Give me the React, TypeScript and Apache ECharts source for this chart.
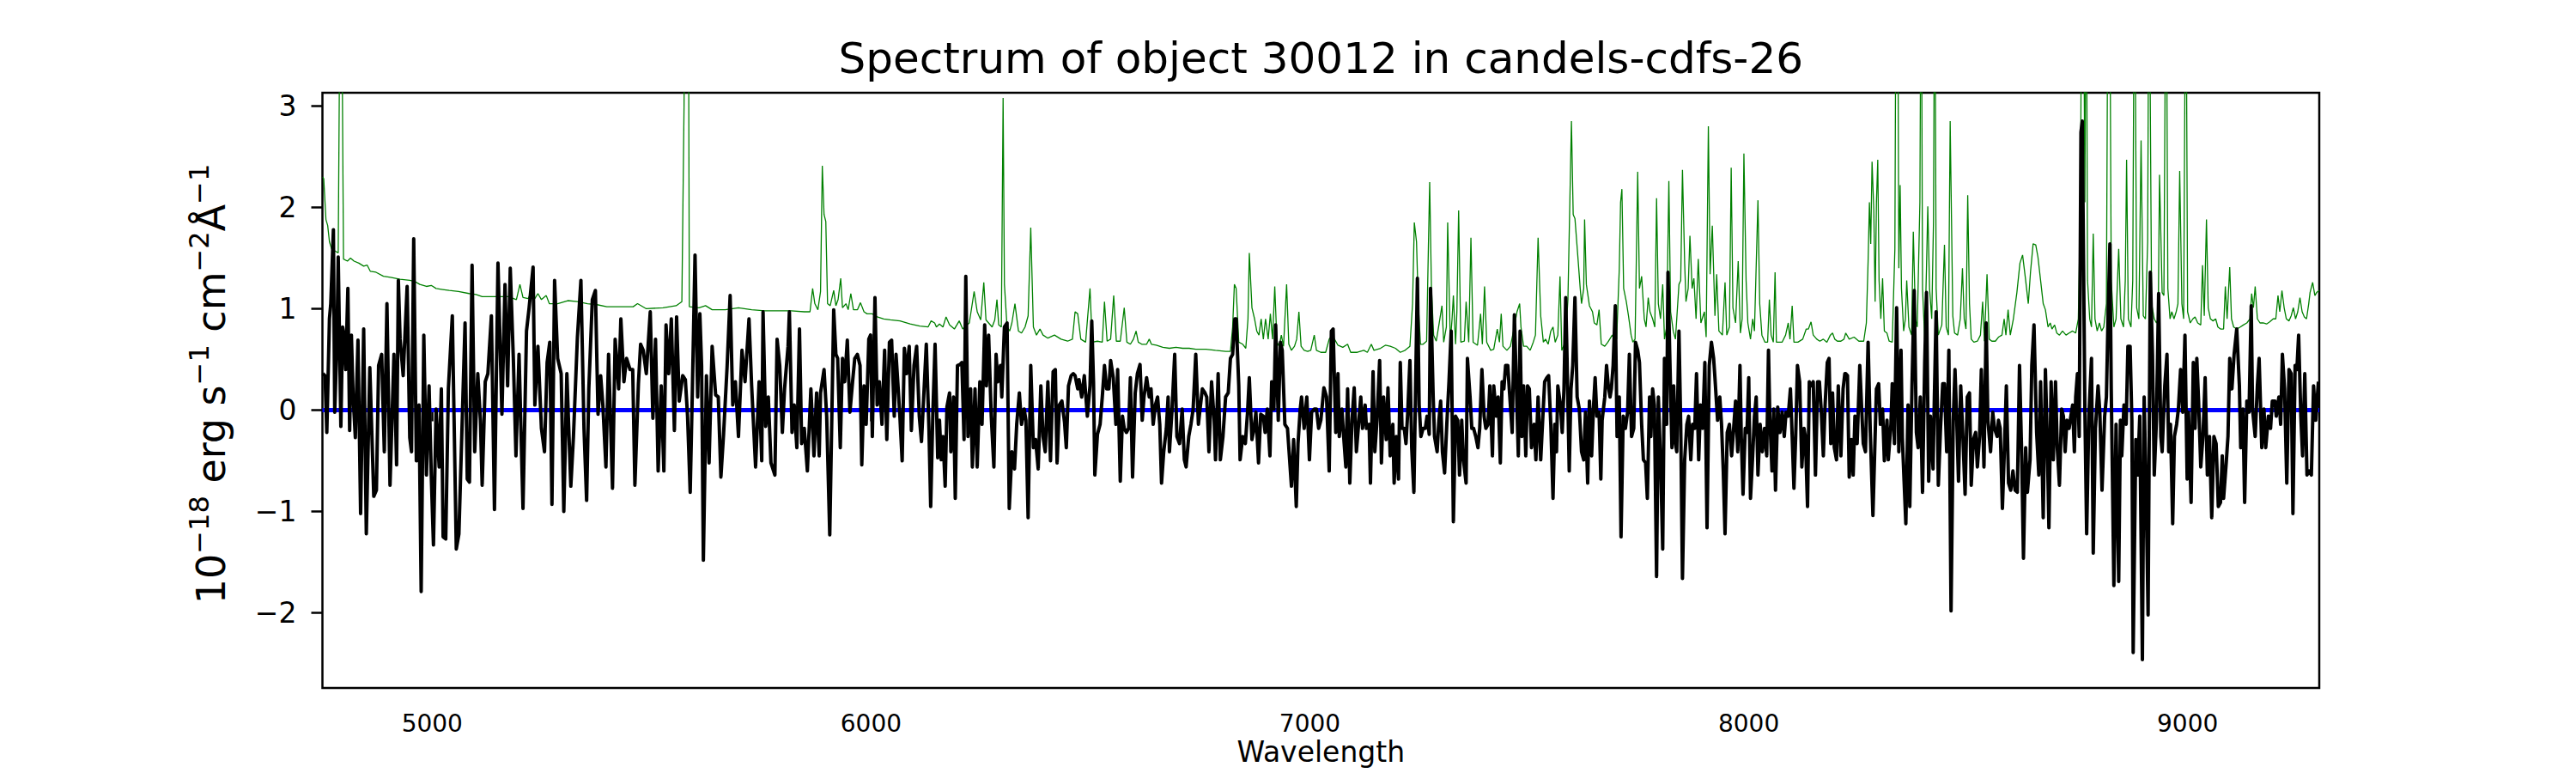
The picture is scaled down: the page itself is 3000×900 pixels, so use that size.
import React, { useEffect, useRef } from "react";
import * as echarts from "echarts";

const TITLE = "Spectrum of object 30012 in candels-cdfs-26";
const X_LABEL = "Wavelength";
const X_RANGE = [4750, 9300];
const Y_RANGE = [-2.74, 3.13];
const X_TICKS = [5000, 6000, 7000, 8000, 9000];
const Y_TICKS = [-2, -1, 0, 1, 2, 3];
const ZERO_LEVEL = 0;

// Object flux (black), [wavelength, flux]
const FLUX_4750_5906 = [[4751,0.36],[4756,0.34],[4760,-0.22],[4766,0.90],[4769,1.05],[4775,1.78],[4778,-0.02],[4783,0.67],[4786,1.51],[4792,-0.16],[4796,0.82],[4799,0.74],[4803,0.40],[4808,1.20],[4812,-0.20],[4816,0.74],[4820,0.13],[4825,-0.27],[4831,0.69],[4837,-1.02],[4844,0.80],[4850,-1.22],[4858,0.42],[4867,-0.85],[4873,-0.79],[4878,0.44],[4885,0.55],[4891,-0.41],[4897,1.05],[4904,-0.74],[4913,0.55],[4919,-0.54],[4923,1.28],[4927,0.70],[4934,0.34],[4943,1.22],[4949,-0.27],[4953,-0.41],[4958,1.69],[4964,-0.50],[4970,0.05],[4975,-1.79],[4981,0.74],[4987,-0.64],[4993,0.24],[4998,-0.64],[5003,-1.33],[5009,0.01],[5016,-0.56],[5021,0.21],[5025,-1.25],[5031,-1.27],[5037,0.21],[5046,0.93],[5055,-1.37],[5061,-1.22],[5067,-0.33],[5075,0.86],[5080,-0.68],[5085,-0.71],[5091,1.43],[5097,-0.41],[5104,0.36],[5110,-0.10],[5114,-0.74],[5121,0.28],[5127,0.36],[5135,0.93],[5142,-0.98],[5150,1.45],[5159,-0.04],[5166,1.24],[5172,0.24],[5178,1.40],[5185,0.51],[5191,-0.45],[5198,0.55],[5207,-0.97],[5215,0.78],[5221,1.01],[5230,1.41],[5234,0.05],[5241,0.63],[5249,-0.18],[5256,-0.41],[5262,0.47],[5268,0.67],[5273,-0.93],[5279,1.28],[5286,0.51],[5294,0.36],[5300,-1.00],[5307,0.36],[5312,-0.27],[5316,-0.75],[5322,-0.26],[5331,0.72],[5339,1.28],[5346,-0.18],[5352,-0.89],[5357,0.21],[5365,1.09],[5372,1.18],[5378,-0.04],[5384,0.34],[5389,0.05],[5396,-0.56],[5402,0.55],[5411,-0.77],[5417,0.70],[5425,0.21],[5430,0.90],[5437,0.28],[5443,0.51],[5451,0.40],[5457,0.40],[5462,-0.74],[5470,0.26],[5475,0.65],[5481,0.59],[5488,0.36],[5497,0.97],[5503,-0.08],[5509,0.70],[5515,-0.60],[5522,0.24],[5528,-0.60],[5533,0.84],[5539,0.36],[5545,0.90],[5552,-0.20],[5557,0.92],[5563,0.09],[5571,0.34],[5577,0.30],[5582,-0.06],[5588,-0.81],[5593,0.21],[5599,1.53],[5605,0.13],[5610,0.95],[5614,0.44],[5618,-1.48],[5625,0.34],[5631,-0.52],[5638,0.63],[5646,0.15],[5652,0.13],[5658,-0.66],[5664,-0.24],[5672,0.42],[5679,1.13],[5685,0.05],[5691,0.28],[5698,-0.26],[5706,0.59],[5713,0.28],[5722,0.90],[5728,0.24],[5737,-0.56],[5745,0.28],[5751,-0.50],[5754,0.97],[5760,-0.16],[5766,0.13],[5772,-0.52],[5781,-0.64],[5786,0.70],[5792,0.44],[5798,-0.22],[5803,0.21],[5811,0.63],[5814,0.97],[5820,-0.22],[5825,0.05],[5831,-0.37],[5837,0.80],[5842,-0.33],[5848,-0.18],[5855,-0.60],[5863,0.21],[5870,-0.45],[5876,0.17],[5882,-0.45],[5885,0.17],[5893,0.40],[5899,-0.06],[5906,-1.23]];

const FLUX_5915_7064 = [[5915,0.99],[5920,0.55],[5924,0.51],[5930,-0.37],[5935,0.51],[5940,0.28],[5946,0.69],[5952,-0.02],[5958,0.28],[5963,0.51],[5969,0.55],[5975,0.44],[5979,-0.54],[5984,0.24],[5989,-0.14],[5995,0.70],[5999,0.74],[6003,-0.26],[6009,1.11],[6014,0.05],[6019,0.28],[6025,-0.14],[6031,0.59],[6036,-0.29],[6042,0.67],[6047,0.69],[6053,-0.06],[6057,0.55],[6062,0.21],[6066,-0.08],[6071,-0.50],[6076,0.61],[6081,0.36],[6087,0.63],[6092,-0.20],[6098,0.44],[6104,0.63],[6110,-0.06],[6115,-0.31],[6121,0.21],[6126,0.65],[6132,-0.18],[6136,-0.95],[6141,-0.02],[6146,0.65],[6152,-0.47],[6156,-0.10],[6160,-0.49],[6164,-0.26],[6169,-0.75],[6173,0.03],[6179,0.17],[6182,-0.41],[6188,0.13],[6192,-0.87],[6197,0.44],[6203,0.45],[6207,0.47],[6212,-0.29],[6216,1.32],[6221,-0.26],[6227,0.21],[6231,-0.56],[6237,0.21],[6242,-0.56],[6248,0.28],[6253,-0.14],[6259,0.84],[6263,0.24],[6268,0.74],[6274,-0.06],[6280,-0.56],[6285,0.55],[6289,0.28],[6295,0.44],[6298,0.13],[6304,0.82],[6310,0.86],[6315,-0.97],[6321,-0.41],[6327,-0.58],[6332,-0.14],[6338,0.17],[6343,-0.14],[6349,0.01],[6353,-0.10],[6358,-1.06],[6364,0.44],[6370,-0.37],[6375,-0.29],[6381,-0.58],[6387,0.24],[6392,-0.26],[6397,-0.41],[6403,0.28],[6409,-0.50],[6415,0.38],[6420,0.40],[6424,-0.52],[6429,0.05],[6435,0.09],[6441,-0.12],[6445,-0.37],[6450,0.24],[6456,0.34],[6461,0.36],[6465,0.34],[6471,0.21],[6474,0.30],[6480,0.13],[6486,0.34],[6493,-0.06],[6499,0.24],[6503,0.88],[6507,0.28],[6510,-0.64],[6516,-0.24],[6522,-0.14],[6527,0.13],[6532,0.44],[6537,0.21],[6542,0.21],[6546,0.49],[6552,0.32],[6558,-0.14],[6562,0.40],[6568,-0.70],[6573,-0.06],[6577,-0.18],[6582,-0.22],[6587,-0.18],[6591,0.32],[6596,-0.66],[6602,0.17],[6607,0.36],[6613,0.45],[6618,-0.10],[6622,0.13],[6628,0.32],[6634,0.13],[6638,0.21],[6643,-0.14],[6648,0.05],[6653,0.13],[6658,-0.14],[6662,-0.72],[6667,-0.41],[6673,-0.18],[6677,0.13],[6680,-0.41],[6686,0.01],[6692,0.55],[6697,-0.26],[6703,-0.33],[6709,0.01],[6714,-0.49],[6718,-0.56],[6724,-0.26],[6729,-0.14],[6734,0.01],[6740,0.55],[6746,-0.14],[6749,-0.02],[6755,0.21],[6761,0.17],[6765,0.13],[6770,-0.41],[6776,0.28],[6782,-0.10],[6785,-0.49],[6791,0.36],[6796,-0.49],[6802,-0.26],[6808,0.13],[6814,0.17],[6819,0.51],[6824,0.55],[6829,0.90],[6832,0.90],[6838,0.24],[6841,-0.49],[6847,-0.26],[6853,-0.33],[6858,-0.02],[6862,0.32],[6868,-0.29],[6873,-0.18],[6877,-0.02],[6883,-0.52],[6888,-0.04],[6894,-0.06],[6898,-0.22],[6903,0.01],[6909,-0.45],[6913,0.28],[6918,0.01],[6922,0.84],[6928,-0.10],[6933,0.67],[6937,0.59],[6943,-0.14],[6949,-0.18],[6952,-0.37],[6958,-0.75],[6963,-0.29],[6969,-0.95],[6973,-0.33],[6978,0.01],[6981,0.13],[6987,-0.18],[6993,0.13],[6999,-0.49],[7004,-0.02],[7010,0.01],[7015,0.01],[7020,-0.18],[7025,-0.10],[7032,0.22],[7038,0.13],[7044,-0.60],[7049,0.78],[7053,0.80],[7059,-0.22],[7064,0.36]];

const FLUX_7067_8219 = [[7067,-0.26],[7073,0.01],[7077,-0.26],[7082,-0.56],[7086,0.21],[7091,-0.72],[7096,-0.10],[7101,0.22],[7106,-0.41],[7111,-0.14],[7116,0.13],[7120,-0.18],[7126,0.05],[7129,-0.18],[7135,-0.14],[7138,-0.72],[7144,0.38],[7148,-0.41],[7153,-0.10],[7159,0.49],[7163,-0.52],[7168,0.13],[7174,-0.29],[7178,0.22],[7183,-0.45],[7189,-0.14],[7192,-0.72],[7197,-0.26],[7202,-0.68],[7206,0.47],[7210,-0.18],[7215,-0.18],[7219,-0.33],[7223,-0.02],[7228,0.49],[7232,-0.37],[7237,-0.81],[7242,0.51],[7245,1.30],[7249,0.05],[7253,-0.26],[7258,-0.18],[7263,-0.18],[7267,-0.06],[7272,-0.24],[7275,1.20],[7281,0.13],[7284,-0.26],[7290,-0.41],[7294,-0.10],[7298,0.09],[7302,-0.41],[7307,-0.62],[7312,-0.14],[7317,0.28],[7322,0.78],[7327,-1.10],[7332,-0.06],[7337,-0.10],[7341,-0.64],[7346,-0.10],[7350,-0.49],[7356,-0.72],[7359,0.51],[7365,0.13],[7369,-0.18],[7373,-0.18],[7378,-0.26],[7383,-0.37],[7387,-0.18],[7392,0.40],[7397,-0.06],[7401,-0.18],[7406,-0.14],[7410,0.24],[7416,-0.45],[7419,0.24],[7425,-0.06],[7429,0.13],[7434,-0.52],[7438,0.28],[7442,0.21],[7446,0.44],[7451,0.44],[7455,0.17],[7461,-0.22],[7466,0.94],[7470,0.32],[7475,-0.45],[7479,0.78],[7483,-0.26],[7487,0.24],[7492,-0.45],[7496,0.24],[7500,0.21],[7505,-0.37],[7511,-0.14],[7515,-0.49],[7520,0.13],[7526,-0.49],[7530,-0.14],[7535,0.28],[7540,0.32],[7544,0.34],[7549,-0.14],[7554,-0.87],[7558,-0.14],[7562,-0.41],[7565,0.24],[7571,0.05],[7575,-0.22],[7579,0.21],[7583,1.11],[7586,0.51],[7591,-0.60],[7595,0.21],[7599,0.44],[7604,1.11],[7609,0.13],[7614,0.01],[7619,-0.41],[7624,-0.49],[7628,-0.02],[7633,-0.72],[7637,0.09],[7642,-0.45],[7646,0.01],[7650,0.32],[7654,-0.06],[7659,-0.02],[7663,-0.68],[7666,-0.10],[7672,0.13],[7676,0.44],[7680,0.24],[7684,0.13],[7687,0.21],[7691,0.44],[7696,1.03],[7700,-0.26],[7705,0.13],[7709,-1.25],[7714,-0.06],[7719,-0.18],[7724,-0.02],[7728,0.55],[7733,-0.26],[7738,-0.18],[7742,0.67],[7747,0.59],[7751,0.47],[7756,-0.14],[7760,-0.49],[7765,-0.52],[7769,-0.87],[7774,0.13],[7777,-0.26],[7781,0.21],[7785,0.05],[7790,-1.64],[7794,0.13],[7799,-0.49],[7804,-1.37],[7808,0.51],[7813,-0.14],[7816,1.36],[7820,0.55],[7825,-0.37],[7829,0.24],[7833,-0.33],[7836,-0.41],[7841,0.78],[7845,-0.14],[7849,-1.66],[7854,-0.49],[7859,-0.14],[7863,-0.06],[7868,-0.49],[7872,-0.14],[7877,-0.18],[7881,0.36],[7886,-0.49],[7890,0.05],[7895,-0.18],[7900,0.47],[7905,-1.16],[7910,0.44],[7915,0.67],[7920,0.51],[7923,0.32],[7929,-0.10],[7934,0.13],[7938,-0.14],[7942,-0.60],[7946,-1.22],[7951,-0.22],[7956,-0.14],[7961,-0.45],[7965,-0.22],[7970,0.09],[7975,-0.41],[7980,0.44],[7983,-0.26],[7987,-0.83],[7992,-0.18],[7996,-0.22],[8000,0.32],[8004,-0.87],[8009,-0.45],[8013,-0.06],[8017,0.13],[8021,-0.64],[8026,-0.14],[8031,-0.41],[8036,-0.18],[8041,-0.45],[8045,0.59],[8048,-0.06],[8053,-0.60],[8057,0.01],[8061,-0.79],[8066,0.03],[8071,-0.22],[8076,-0.02],[8081,-0.26],[8085,-0.02],[8090,-0.06],[8095,0.21],[8099,-0.26],[8103,-0.77],[8107,-0.26],[8111,0.44],[8116,0.28],[8121,-0.56],[8126,-0.18],[8129,-0.26],[8134,-0.95],[8138,0.28],[8142,0.24],[8147,0.28],[8152,-0.64],[8157,0.28],[8161,0.28],[8165,0.01],[8170,-0.45],[8174,0.05],[8179,0.47],[8183,0.51],[8187,-0.33],[8191,0.17],[8195,-0.37],[8200,-0.49],[8204,0.24],[8210,-0.45],[8215,0.21],[8219,0.36]];

const FLUX_8221_9298 = [[8221,0.36],[8225,0.34],[8229,-0.66],[8234,-0.29],[8238,-0.64],[8242,-0.06],[8247,-0.33],[8253,0.44],[8257,0.05],[8261,-0.33],[8266,-0.41],[8272,0.67],[8277,-0.22],[8283,-1.04],[8287,-0.41],[8291,0.21],[8296,0.26],[8300,-0.14],[8305,0.01],[8309,-0.50],[8315,-0.10],[8318,-0.49],[8324,-0.14],[8327,0.26],[8332,-0.33],[8337,1.01],[8342,-0.41],[8347,0.59],[8350,-0.27],[8354,-0.70],[8358,-1.12],[8363,0.05],[8367,-0.95],[8372,0.24],[8377,1.18],[8382,-0.22],[8386,-0.37],[8391,0.13],[8396,-0.81],[8401,0.47],[8405,1.16],[8410,-0.70],[8414,-0.06],[8420,-0.58],[8423,0.13],[8427,0.97],[8432,-0.74],[8437,-0.18],[8442,0.26],[8446,0.26],[8451,-0.41],[8456,0.59],[8461,-1.98],[8466,-0.10],[8470,0.40],[8474,-0.10],[8478,-0.70],[8483,0.24],[8488,-0.26],[8493,-0.83],[8498,0.13],[8503,0.17],[8507,-0.74],[8512,-0.29],[8517,-0.22],[8521,-0.56],[8526,-0.26],[8530,0.40],[8536,-0.56],[8541,0.86],[8545,-0.10],[8551,-0.41],[8556,-0.02],[8560,-0.18],[8566,-0.26],[8569,-0.10],[8573,-0.18],[8578,-0.97],[8583,-0.33],[8587,0.24],[8592,-0.72],[8597,-0.79],[8602,-0.60],[8607,-0.79],[8612,-0.81],[8617,0.44],[8622,-0.45],[8626,-1.46],[8631,-0.37],[8635,-0.81],[8641,-0.49],[8645,0.44],[8650,0.84],[8656,-0.22],[8661,-0.64],[8665,0.28],[8671,-1.06],[8676,0.40],[8680,-0.26],[8684,-1.16],[8689,0.28],[8694,-0.49],[8699,0.28],[8703,-0.37],[8708,-0.74],[8713,0.01],[8717,-0.06],[8721,-0.41],[8725,-0.10],[8730,-0.18],[8734,-0.06],[8738,0.05],[8742,-0.41],[8745,0.13],[8749,0.36],[8753,-0.26],[8757,2.74],[8760,2.85],[8766,-0.02],[8770,-1.22],[8775,-0.06],[8781,0.51],[8785,-1.41],[8790,-0.18],[8796,0.24],[8800,-0.02],[8805,-0.79],[8811,-0.06],[8815,0.13],[8819,0.97],[8823,1.64],[8826,0.21],[8832,-1.73],[8837,-0.14],[8843,-1.69],[8847,-0.10],[8850,-0.45],[8855,0.05],[8860,-0.14],[8864,0.63],[8869,0.63],[8873,-0.10],[8876,-2.39],[8882,-0.29],[8886,-0.64],[8891,-0.06],[8897,-2.46],[8901,0.13],[8905,-0.68],[8910,-2.02],[8915,1.36],[8920,0.55],[8924,-0.64],[8929,-0.10],[8934,1.15],[8939,-0.26],[8942,-0.41],[8948,0.24],[8953,0.55],[8957,-0.41],[8961,-0.14],[8966,-1.12],[8970,-0.26],[8975,-0.14],[8979,0.01],[8984,0.40],[8989,-0.02],[8994,0.74],[8999,-0.68],[9002,-0.02],[9008,-0.91],[9013,0.47],[9017,-0.18],[9021,0.51],[9025,0.09],[9030,-0.56],[9035,-0.26],[9040,0.32],[9045,-0.64],[9050,-0.26],[9055,-1.06],[9060,-0.26],[9065,-0.33],[9070,-0.95],[9075,-0.91],[9079,-0.45],[9082,-0.87],[9088,-0.52],[9092,-0.26],[9096,0.51],[9101,0.21],[9106,0.55],[9112,0.80],[9118,0.24],[9121,-0.37],[9126,0.01],[9130,-0.91],[9135,0.09],[9140,-0.02],[9145,1.03],[9148,0.01],[9154,-0.26],[9159,0.24],[9163,0.51],[9169,-0.37],[9174,0.01],[9178,-0.37],[9184,-0.06],[9189,-0.18],[9193,0.09],[9199,0.09],[9202,-0.06],[9208,0.13],[9212,-0.14],[9216,0.55],[9221,0.21],[9226,-0.72],[9231,0.40],[9236,0.36],[9240,-1.02],[9245,0.44],[9249,0.40],[9253,0.74],[9258,-0.06],[9262,-0.45],[9267,0.36],[9272,-0.64],[9277,-0.60],[9282,-0.64],[9287,0.24],[9292,-0.10],[9298,0.28]];

// Noise / sky spectrum (green), [wavelength, value]
const SKY_4750_5900 = [[4751,2.30],[4753,2.28],[4758,1.88],[4762,1.82],[4766,1.66],[4771,1.59],[4786,1.55],[4789,3.5],[4792,6.0],[4795,3.5],[4798,1.49],[4807,1.47],[4814,1.50],[4822,1.47],[4833,1.45],[4844,1.42],[4852,1.43],[4859,1.37],[4872,1.36],[4889,1.32],[4905,1.31],[4927,1.29],[4949,1.28],[4960,1.27],[4972,1.24],[4987,1.22],[4998,1.23],[5009,1.20],[5024,1.19],[5039,1.18],[5060,1.17],[5084,1.15],[5100,1.14],[5114,1.12],[5144,1.12],[5174,1.12],[5192,1.09],[5200,1.24],[5207,1.11],[5219,1.10],[5226,1.17],[5234,1.10],[5241,1.15],[5249,1.09],[5260,1.13],[5267,1.05],[5286,1.05],[5309,1.08],[5331,1.07],[5354,1.05],[5376,1.04],[5398,1.02],[5428,1.02],[5458,1.02],[5468,1.05],[5488,1.00],[5526,1.01],[5556,1.03],[5569,1.07],[5574,3.0],[5578,6.0],[5583,6.0],[5586,1.02],[5608,1.01],[5623,1.03],[5638,0.99],[5668,0.99],[5698,1.01],[5728,0.99],[5758,0.98],[5788,0.98],[5818,0.98],[5848,0.97],[5861,0.97],[5867,1.20],[5872,1.05],[5879,0.99],[5885,1.17],[5889,2.41],[5893,1.93],[5897,1.86]];

const SKY_5900_7055 = [[5901,1.05],[5907,1.03],[5915,1.18],[5920,1.03],[5925,1.09],[5931,1.30],[5935,1.01],[5943,1.05],[5948,0.99],[5954,1.15],[5960,0.99],[5969,0.99],[5976,1.06],[5984,0.97],[5991,0.95],[6003,0.95],[6014,0.92],[6029,0.90],[6044,0.89],[6066,0.88],[6089,0.85],[6111,0.83],[6130,0.82],[6137,0.88],[6145,0.86],[6149,0.82],[6156,0.85],[6164,0.82],[6171,0.92],[6179,0.84],[6190,0.80],[6201,0.88],[6209,0.80],[6224,0.86],[6235,1.17],[6242,0.97],[6250,0.89],[6257,1.26],[6262,0.89],[6268,0.86],[6276,0.82],[6282,0.89],[6287,1.09],[6291,0.84],[6297,0.82],[6301,3.08],[6304,1.24],[6310,0.82],[6316,0.78],[6321,0.86],[6328,1.05],[6336,0.78],[6343,0.76],[6351,0.82],[6358,0.93],[6364,1.80],[6370,0.82],[6377,0.74],[6385,0.80],[6392,0.74],[6403,0.71],[6418,0.74],[6433,0.70],[6448,0.68],[6459,0.70],[6465,0.97],[6471,0.95],[6478,0.70],[6489,0.67],[6499,1.20],[6504,0.67],[6516,0.68],[6527,0.67],[6532,1.07],[6538,0.68],[6546,0.70],[6553,1.13],[6559,0.68],[6568,0.68],[6577,1.01],[6583,0.67],[6591,0.65],[6598,0.70],[6604,0.78],[6609,0.67],[6617,0.65],[6628,0.65],[6634,0.70],[6639,0.65],[6650,0.64],[6665,0.62],[6680,0.61],[6695,0.62],[6710,0.61],[6725,0.61],[6740,0.60],[6763,0.60],[6785,0.59],[6808,0.58],[6819,0.58],[6824,0.82],[6828,1.24],[6832,1.20],[6838,0.67],[6847,0.65],[6854,0.61],[6859,0.90],[6862,1.55],[6868,1.01],[6874,0.90],[6879,0.78],[6884,0.74],[6889,0.90],[6894,0.70],[6899,0.90],[6905,0.70],[6910,0.95],[6915,0.70],[6920,1.22],[6925,0.67],[6930,0.63],[6935,0.74],[6940,0.63],[6947,1.24],[6952,0.65],[6958,0.59],[6965,0.63],[6970,0.70],[6975,0.97],[6980,0.63],[6987,0.59],[6995,0.58],[7002,0.59],[7010,0.74],[7015,0.59],[7025,0.57],[7036,0.57],[7044,0.70],[7051,0.74]];

const SKY_7060_8220 = [[7064,0.64],[7075,0.62],[7086,0.65],[7093,0.57],[7108,0.57],[7123,0.59],[7131,0.57],[7140,0.65],[7146,0.59],[7161,0.61],[7172,0.64],[7183,0.63],[7195,0.61],[7206,0.57],[7217,0.59],[7228,0.63],[7234,1.05],[7238,1.85],[7243,1.66],[7247,1.05],[7252,0.65],[7258,0.65],[7266,0.68],[7270,1.59],[7273,2.25],[7277,1.20],[7282,0.74],[7288,0.68],[7294,0.84],[7301,1.03],[7305,0.67],[7311,0.82],[7314,1.85],[7320,0.67],[7324,0.90],[7327,1.13],[7332,0.65],[7335,0.97],[7339,1.97],[7344,0.67],[7352,0.68],[7356,1.07],[7362,0.67],[7367,1.70],[7372,0.67],[7382,0.64],[7389,0.95],[7393,0.65],[7398,1.22],[7403,0.67],[7412,0.59],[7419,0.60],[7427,0.80],[7432,0.67],[7436,0.95],[7440,0.63],[7449,0.59],[7457,0.63],[7464,0.78],[7472,0.97],[7478,1.05],[7481,0.82],[7487,0.63],[7494,0.63],[7502,0.59],[7509,0.67],[7514,0.74],[7520,1.70],[7526,0.93],[7532,0.67],[7537,0.70],[7543,0.65],[7549,0.78],[7554,0.82],[7559,0.67],[7565,0.74],[7570,1.32],[7574,0.59],[7582,0.67],[7588,1.09],[7592,1.97],[7596,2.85],[7600,1.93],[7604,1.89],[7610,1.55],[7616,1.20],[7619,1.05],[7624,1.20],[7626,1.88],[7630,1.24],[7637,1.03],[7644,0.97],[7648,0.86],[7654,0.84],[7659,0.99],[7664,0.65],[7672,0.63],[7679,0.67],[7689,0.74],[7699,0.70],[7705,1.39],[7708,2.05],[7711,2.18],[7715,1.20],[7721,1.07],[7726,0.93],[7732,0.74],[7736,0.67],[7741,0.70],[7747,2.35],[7751,1.20],[7756,1.32],[7762,0.90],[7766,0.82],[7771,1.11],[7775,0.97],[7781,0.90],[7786,0.82],[7790,2.09],[7794,1.05],[7799,0.90],[7804,1.24],[7808,0.70],[7813,0.82],[7818,2.26],[7822,0.97],[7828,0.78],[7833,0.70],[7837,0.97],[7841,1.24],[7845,1.28],[7849,2.37],[7854,1.45],[7857,1.07],[7862,1.20],[7866,1.72],[7871,1.20],[7875,1.30],[7880,0.90],[7885,1.49],[7891,0.86],[7899,0.97],[7903,0.72],[7908,2.80],[7912,1.34],[7917,1.82],[7923,0.93],[7927,1.34],[7932,0.78],[7940,0.74],[7946,1.26],[7950,0.74],[7956,0.82],[7960,2.39],[7964,1.01],[7970,0.86],[7976,1.47],[7981,0.76],[7985,0.90],[7989,2.53],[7994,1.28],[7998,0.86],[8004,0.70],[8009,0.90],[8013,0.78],[8021,2.07],[8025,1.05],[8030,0.74],[8037,0.67],[8043,0.67],[8047,1.09],[8051,0.74],[8056,0.67],[8060,1.36],[8063,0.67],[8071,0.67],[8076,0.67],[8084,0.74],[8090,0.86],[8094,0.70],[8099,1.03],[8103,0.67],[8112,0.67],[8123,0.70],[8131,0.80],[8136,0.80],[8142,0.87],[8147,0.74],[8155,0.70],[8162,0.68],[8170,0.70],[8178,0.67],[8186,0.74],[8191,0.76],[8196,0.70],[8202,0.68],[8210,0.68],[8217,0.70]];

const SKY_8220_9300 = [[8221,0.76],[8229,0.70],[8240,0.72],[8251,0.68],[8262,0.68],[8268,0.86],[8272,1.47],[8275,2.05],[8278,1.64],[8281,2.45],[8285,1.97],[8288,1.07],[8291,2.05],[8294,2.47],[8297,1.28],[8301,0.90],[8305,1.30],[8309,0.78],[8315,0.76],[8320,0.68],[8327,0.67],[8333,1.59],[8336,5.0],[8339,5.0],[8342,1.40],[8345,2.22],[8348,1.20],[8353,0.78],[8357,0.90],[8360,1.28],[8365,0.82],[8371,0.74],[8375,1.76],[8380,0.90],[8384,0.82],[8390,2.05],[8393,5.0],[8396,1.20],[8401,0.70],[8405,1.39],[8408,2.01],[8412,1.20],[8417,0.90],[8421,1.86],[8424,5.0],[8427,1.20],[8432,0.74],[8440,0.84],[8446,1.63],[8450,0.82],[8455,0.74],[8459,2.85],[8465,0.93],[8469,0.76],[8476,0.74],[8482,0.90],[8487,1.40],[8491,0.90],[8495,0.80],[8499,2.12],[8503,1.05],[8507,0.70],[8513,0.67],[8521,0.68],[8528,0.74],[8533,1.07],[8537,0.68],[8543,1.34],[8548,0.70],[8554,0.68],[8562,0.68],[8569,0.72],[8577,0.74],[8582,0.90],[8586,0.74],[8591,0.99],[8596,0.74],[8603,0.90],[8611,1.16],[8618,1.45],[8624,1.53],[8631,1.28],[8637,1.05],[8642,1.36],[8648,1.64],[8654,1.63],[8659,1.51],[8665,1.28],[8671,1.05],[8676,0.99],[8682,0.82],[8687,0.86],[8691,0.80],[8697,0.84],[8702,0.76],[8708,0.74],[8715,0.78],[8723,0.74],[8730,0.76],[8738,0.78],[8745,0.76],[8751,0.90],[8756,2.05],[8759,5.0],[8762,5.0],[8766,2.05],[8769,5.0],[8772,1.28],[8777,0.90],[8781,0.82],[8785,1.74],[8789,0.90],[8794,0.78],[8799,0.86],[8804,0.78],[8809,0.82],[8815,1.05],[8819,5.0],[8822,5.0],[8826,1.28],[8832,0.82],[8837,0.90],[8843,1.59],[8848,0.90],[8854,0.82],[8858,1.28],[8861,2.47],[8865,0.90],[8871,0.82],[8875,1.28],[8879,5.0],[8884,1.01],[8889,0.90],[8894,2.66],[8899,0.93],[8904,0.90],[8909,1.66],[8912,5.0],[8918,1.05],[8924,0.90],[8929,0.86],[8933,0.90],[8936,2.32],[8942,1.16],[8946,1.13],[8951,5.0],[8955,1.20],[8960,0.90],[8964,0.97],[8969,0.90],[8974,0.97],[8978,1.05],[8982,2.36],[8987,1.05],[8991,0.90],[8996,5.0],[9000,0.97],[9006,0.86],[9012,0.90],[9017,0.92],[9023,0.86],[9030,0.84],[9034,1.43],[9038,0.93],[9043,1.88],[9047,1.01],[9052,0.90],[9058,0.88],[9064,0.90],[9069,0.82],[9075,0.80],[9082,0.80],[9086,1.22],[9090,0.90],[9096,1.41],[9100,0.90],[9105,0.82],[9112,0.80],[9120,0.82],[9127,0.84],[9135,0.86],[9142,0.90],[9146,1.15],[9150,1.01],[9154,1.22],[9159,0.90],[9165,0.86],[9172,0.86],[9180,0.85],[9187,0.87],[9195,0.90],[9201,0.90],[9206,1.13],[9210,0.97],[9215,1.18],[9220,1.01],[9225,0.90],[9231,0.88],[9236,0.93],[9241,1.01],[9246,0.90],[9251,0.97],[9256,1.11],[9261,0.97],[9266,0.92],[9271,0.90],[9276,1.05],[9279,1.16],[9285,1.26],[9290,1.13],[9294,1.16],[9300,1.18]];

const FONT = "DejaVu Sans";

function minusFmt(v: number): string {
  return v < 0 ? "\u2212" + Math.abs(v) : String(v);
}

function plainFmt(v: number): string {
  return String(v);
}

export default function App() {
  const ref = useRef<HTMLDivElement>(null);

  useEffect(() => {
    if (!ref.current) return;
    const chart = echarts.init(ref.current, null, { renderer: "svg", width: 3000, height: 900 });

    const flux = [...FLUX_4750_5906, ...FLUX_5915_7064, ...FLUX_7067_8219, ...FLUX_8221_9298];
    const sky = [...SKY_4750_5900, ...SKY_5900_7055, ...SKY_7060_8220, ...SKY_8220_9300];
    const zero = [[X_RANGE[0], ZERO_LEVEL], [X_RANGE[1], ZERO_LEVEL]];

    const gridLeft = 375.5;
    const gridTop = 108;
    const gridW = 2325.5;
    const gridH = 693;

    chart.setOption({
      animation: false,
      backgroundColor: "#ffffff",
      textStyle: { fontFamily: FONT },
      grid: {
        left: gridLeft,
        top: gridTop,
        width: gridW,
        height: gridH,
        show: true,
        borderColor: "#000",
        borderWidth: 2.5,
        backgroundColor: "transparent",
      },
      xAxis: {
        type: "value",
        min: X_RANGE[0],
        max: X_RANGE[1],
        axisLine: { show: false },
        splitLine: { show: false },
        axisTick: { show: true, length: 13, lineStyle: { color: "#000", width: 2.5 }, customValues: X_TICKS },
        axisLabel: { customValues: X_TICKS, fontSize: 28, fontFamily: FONT, color: "#000", margin: 27, formatter: plainFmt },
      },
      yAxis: {
        type: "value",
        min: Y_RANGE[0],
        max: Y_RANGE[1],
        axisLine: { show: false },
        splitLine: { show: false },
        axisTick: { show: true, length: 13, lineStyle: { color: "#000", width: 2.5 }, customValues: Y_TICKS },
        axisLabel: { customValues: Y_TICKS, fontSize: 33, fontFamily: FONT, color: "#000", margin: 30, formatter: minusFmt },
      },
      graphic: [
        {
          type: "text",
          x: gridLeft + gridW / 2,
          y: 67.7,
          style: { text: TITLE, fontSize: 50, fontFamily: FONT, fill: "#000", align: "center", verticalAlign: "middle" },
        },
        {
          type: "text",
          x: gridLeft + gridW / 2,
          y: 875.6,
          style: { text: X_LABEL, fontSize: 33, fontFamily: FONT, fill: "#000", align: "center", verticalAlign: "middle" },
        },
        {
          type: "text",
          x: 246.1,
          y: 447,
          rotation: Math.PI / 2,
          style: {
            text: "{m|10}{s|\u221218}{m| erg s}{s|\u22121}{m| cm}{s|\u22122}{m|\u00c5}{s|\u22121}",
            fontFamily: FONT,
            fill: "#000",
            align: "center",
            verticalAlign: "middle",
            rich: {
              m: { fontSize: 46, lineHeight: 60, verticalAlign: "middle", fontFamily: FONT, fill: "#000" },
              s: { fontSize: 32, lineHeight: 32, verticalAlign: "top", fontFamily: FONT, fill: "#000" },
            },
          },
        },
      ],
      series: [
        {
          type: "line",
          data: sky,
          symbol: "none",
          showSymbol: false,
          clip: true,
          silent: true,
          lineStyle: { color: "#008000", width: 1.3 },
        },
        {
          type: "line",
          data: zero,
          symbol: "none",
          showSymbol: false,
          clip: true,
          silent: true,
          lineStyle: { color: "#0000ff", width: 5 },
        },
        {
          type: "line",
          data: flux,
          symbol: "none",
          showSymbol: false,
          clip: true,
          silent: true,
          lineStyle: { color: "#000000", width: 4, join: "round" },
        },
      ],
    });

    return () => chart.dispose();
  }, []);

  return (
    <div
      ref={ref}
      style={{ position: "fixed", left: 0, top: 0, width: 3000, height: 900, background: "#fff" }}
    />
  );
}
